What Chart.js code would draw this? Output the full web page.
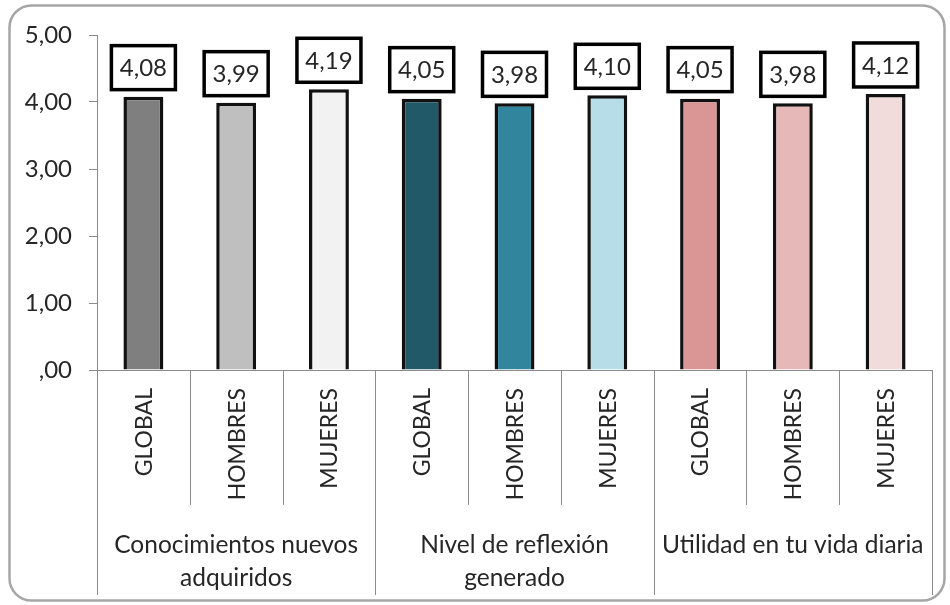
<!DOCTYPE html>
<html>
<head>
<meta charset="utf-8">
<script src="https://cdn.jsdelivr.net/npm/chart.js@4.4.1/dist/chart.umd.min.js"></script>
<style>
html,body{margin:0;padding:0;background:#fff;}
#wrap{width:950px;height:605px;position:relative;}
</style>
</head>
<body>
<div id="wrap"><canvas id="c" width="950" height="605"></canvas></div>
<script>
const categories = ["GLOBAL","HOMBRES","MUJERES","GLOBAL","HOMBRES","MUJERES","GLOBAL","HOMBRES","MUJERES"];
const groups = [["Conocimientos nuevos","adquiridos"],["Nivel de reflexión","generado"],["Utilidad en tu vida diaria"]];
const values = [4.08, 3.99, 4.19, 4.05, 3.98, 4.10, 4.05, 3.98, 4.12];
const barColors = ["#7f7f7f","#bfbfbf","#f2f2f2","#215968","#31859c","#b7dee8","#d99694","#e6b9b8","#f2dcdb"];
const yTicks = [0,1,2,3,4,5];

const FONT = "Lato, 'Open Sans', sans-serif";
const TEXT = "#262626";
const GRID = "#8c8c8c";

function fmt(v){
  const s = v.toFixed(2).replace('.', ',');
  return s.startsWith('0,') ? s.slice(1) : s;
}

const decor = {
  id: 'decor',
  beforeDraw(chart){
    const ctx = chart.ctx;
    ctx.save();
    ctx.fillStyle = '#fff';
    ctx.fillRect(0,0,chart.width,chart.height);
    ctx.strokeStyle = '#a6a6a6';
    ctx.lineWidth = 2.5;
    ctx.beginPath();
    ctx.roundRect(9.5, 5.5, 935, 595, 22);
    ctx.stroke();
    ctx.restore();
  },
  afterDatasetsDraw(chart){
    const ctx = chart.ctx;
    const x = chart.scales.x, y = chart.scales.y;
    const area = chart.chartArea;
    const base = y.getPixelForValue(0);
    const n = categories.length;
    const step = (area.right - area.left) / n;
    ctx.save();
    ctx.strokeStyle = GRID;
    ctx.lineWidth = 1;
    ctx.beginPath();
    ctx.moveTo(area.left, Math.round(base)+0.5);
    ctx.lineTo(area.right, Math.round(base)+0.5);
    ctx.stroke();
    for (let i = 0; i <= n; i++){
      const px = Math.round(area.left + i*step) + 0.5;
      const bottom = (i % 3 === 0) ? 595 : 505;
      ctx.beginPath();
      ctx.moveTo(px, base);
      ctx.lineTo(px, bottom);
      ctx.stroke();
    }
    ctx.fillStyle = TEXT;
    ctx.font = "23px " + FONT;
    ctx.textAlign = 'right';
    ctx.textBaseline = 'middle';
    categories.forEach((c, i) => {
      const cx = x.getPixelForValue(i);
      ctx.save();
      ctx.translate(cx + 1, 388);
      ctx.rotate(-Math.PI/2);
      ctx.fillText(c, 0, 0);
      ctx.restore();
    });
    ctx.textAlign = 'center';
    ctx.font = "24.5px " + FONT;
    groups.forEach((lines, g) => {
      const cx = area.left + (g*3 + 1.5)*step;
      lines.forEach((l, k) => {
        ctx.fillText(l, cx, 545 + k*33);
      });
    });
    const meta = chart.getDatasetMeta(0);
    ctx.font = "24px " + FONT;
    meta.data.forEach((bar, i) => {
      const bw = 64, bh = 44;
      const bx = bar.x - bw/2;
      const by = bar.y - 7 - bh;
      ctx.fillStyle = '#fff';
      ctx.fillRect(bx, by, bw, bh);
      ctx.strokeStyle = '#000';
      ctx.lineWidth = 3.5;
      ctx.strokeRect(bx, by, bw, bh);
      ctx.fillStyle = TEXT;
      ctx.textAlign = 'center';
      ctx.textBaseline = 'middle';
      ctx.fillText(fmt(values[i]), bar.x, by + bh/2 + 1);
    });
    ctx.restore();
  }
};

new Chart(document.getElementById('c'), {
  type: 'bar',
  data: {
    labels: categories,
    datasets: [{
      data: values,
      backgroundColor: barColors,
      borderColor: '#111',
      borderWidth: 3.5,
      borderSkipped: 'bottom',
      barPercentage: 0.43,
      categoryPercentage: 1.0
    }]
  },
  options: {
    responsive: false,
    animation: false,
    devicePixelRatio: 1,
    layout: { padding: { left: 0, top: 35, right: 18, bottom: 235 } },
    plugins: { legend: { display: false }, tooltip: { enabled: false } },
    scales: {
      x: { display: false },
      y: {
        min: 0, max: 5,
        afterFit(scale){ scale.width = 97; },
        afterBuildTicks(scale){ scale.ticks = yTicks.map(v => ({value: v})); },
        ticks: {
          stepSize: 1,
          color: TEXT,
          padding: 17,
          font: { family: FONT, size: 24 },
          callback: (v) => fmt(v)
        },
        grid: { drawOnChartArea: false, drawTicks: true, tickLength: 8, color: GRID },
        border: { display: true, color: GRID, width: 1 }
      }
    }
  },
  plugins: [decor]
});
</script>
</body>
</html>
